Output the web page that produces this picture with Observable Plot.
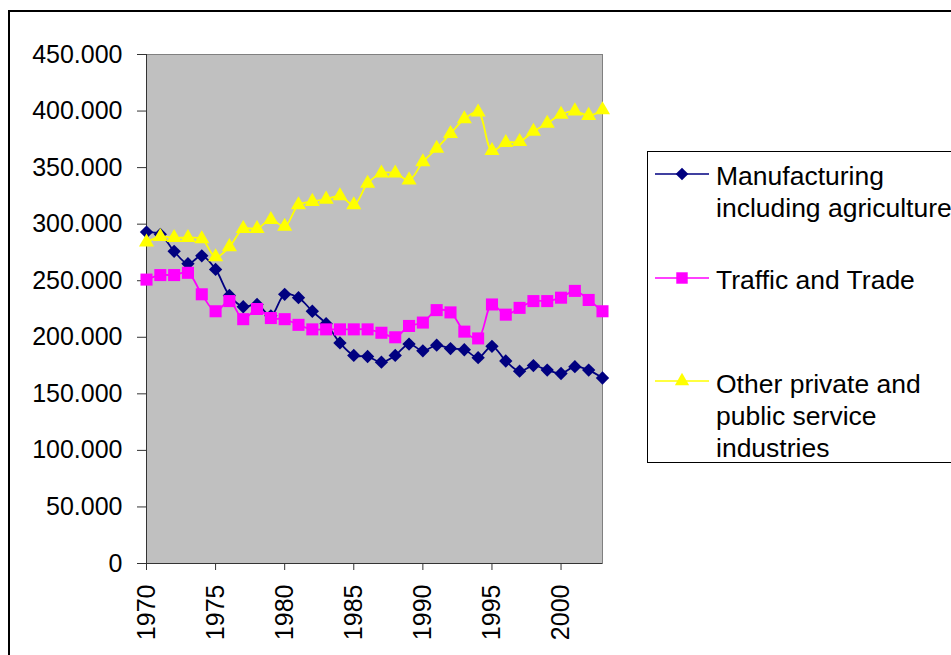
<!DOCTYPE html>
<html><head><meta charset="utf-8">
<script src="https://cdn.jsdelivr.net/npm/d3@7"></script>
<script src="https://cdn.jsdelivr.net/npm/@observablehq/plot@0.6"></script>
<style>
body{margin:0;background:#fff;font-family:"Liberation Sans",Arial,sans-serif;}
#wrap{position:relative;width:951px;height:655px;overflow:hidden;background:#fff;}
#wrap > svg{position:absolute;left:0;top:0;}
#border{position:absolute;left:8px;top:10px;width:1000px;height:700px;border-left:2px solid #000;border-top:2px solid #000;pointer-events:none;}
#legend{position:absolute;left:647px;top:151px;width:330px;height:310px;border:1px solid #000;background:#fff;}
#legend svg{position:absolute;left:0;top:0;}
.lt{position:absolute;left:68px;font-size:26.5px;line-height:32px;color:#000;white-space:nowrap;}
</style>
</head><body>
<div id="wrap"><div id="border"></div></div>
<script>
const years = [1970,1971,1972,1973,1974,1975,1976,1977,1978,1979,1980,1981,1982,1983,1984,1985,1986,1987,1988,1989,1990,1991,1992,1993,1994,1995,1996,1997,1998,1999,2000,2001,2002,2003];
const manufacturing = [293,291,276,265,272,260,237,227,229,219,238,235,223,212,195,184,183,178,184,194,188,193,190,189,182,192,179,170,175,171,168,174,171,164];
const traffic = [251,255,255,257,238,223,232,216,225,217,216,211,207,207,207,207,207,204,200,210,213,224,222,205,199,229,220,226,232,232,235,241,233,223];
const other = [284,289,288,288,287,271,280,296,296,304,298,317,320,322,325,317,336,345,345,339,355,367,380,393,399,365,372,373,382,389,397,400,396,401];
const seriesNames = ["Manufacturing\nincluding agriculture","Traffic and Trade","Other private and\npublic service\nindustries"];
const yTicks = [0,50,100,150,200,250,300,350,400,450];
const xTicks = [1970,1975,1980,1985,1990,1995,2000];

const series = [
  {name: seriesNames[0], values: manufacturing, color: "#000080", symbol: "diamond2", r: 6},
  {name: seriesNames[1], values: traffic, color: "#FF00FF", symbol: "square", r: 6.8},
  {name: seriesNames[2], values: other, color: "#FFFF00", symbol: "triangle", r: 5.6}
];
const rowsOf = s => years.map((yr, i) => ({year: yr, value: s.values[i]}));

const fmt = d3.formatLocale({thousands: ".", grouping: [3], decimal: ",", currency: ["", ""]}).format(",");

const marks = [
  Plot.frame({fill: "#c0c0c0", stroke: "#808080"}),
  Plot.axisY({ticks: yTicks, tickSize: 9, tickPadding: 15, tickFormat: d => fmt(d * 1000), stroke: "#333", fontSize: 25, label: null}),
  Plot.axisX({ticks: xTicks, tickSize: 7, tickPadding: 14, tickRotate: -90, tickFormat: d => String(d), stroke: "#333", fontSize: 25, label: null}),
  Plot.ruleX([years[0]], {stroke: "#333"}),
  Plot.ruleY([0], {stroke: "#333"})
];
for (const s of series) {
  const rows = rowsOf(s);
  marks.push(Plot.line(rows, {x: "year", y: "value", stroke: s.color, strokeWidth: 1.8, curve: "catmull-rom"}));
  marks.push(Plot.dot(rows, {x: "year", y: "value", symbol: s.symbol, r: s.r, fill: s.color, stroke: "none"}));
}

const chart = Plot.plot({
  width: 951, height: 655,
  marginLeft: 146, marginRight: 349, marginTop: 54, marginBottom: 92,
  x: {domain: [years[0], years[years.length - 1]], label: null},
  y: {domain: [0, 450], label: null},
  style: {background: "transparent", fontFamily: '"Liberation Sans", Arial, sans-serif', fontSize: "25px", color: "#000", overflow: "visible"},
  marks
});
const wrap = document.getElementById("wrap");
wrap.insertBefore(chart, wrap.firstChild);

// legend
const legend = document.createElement("div");
legend.id = "legend";
wrap.appendChild(legend);
const lsvg = d3.select(legend).append("svg").attr("width", 330).attr("height", 310);
const lineYs = [22, 126, 229];
const textTops = [8, 112, 216];
const symMap = {diamond2: d3.symbolDiamond2, square: d3.symbolSquare, triangle: d3.symbolTriangle};
series.forEach((s, i) => {
  const g = lsvg.append("g").attr("transform", `translate(0,${lineYs[i]})`);
  g.append("line").attr("x1", 7).attr("x2", 61).attr("y1", 0).attr("y2", 0).attr("stroke", s.color).attr("stroke-width", 1.5);
  g.append("path").attr("transform", "translate(34,0)")
    .attr("d", d3.symbol(symMap[s.symbol], Math.PI * s.r * s.r * 0.9)()).attr("fill", s.color);
  const t = document.createElement("div");
  t.className = "lt";
  t.style.top = textTops[i] + "px";
  t.innerHTML = s.name.split("\n").join("<br>");
  legend.appendChild(t);
});
</script>
</body></html>
